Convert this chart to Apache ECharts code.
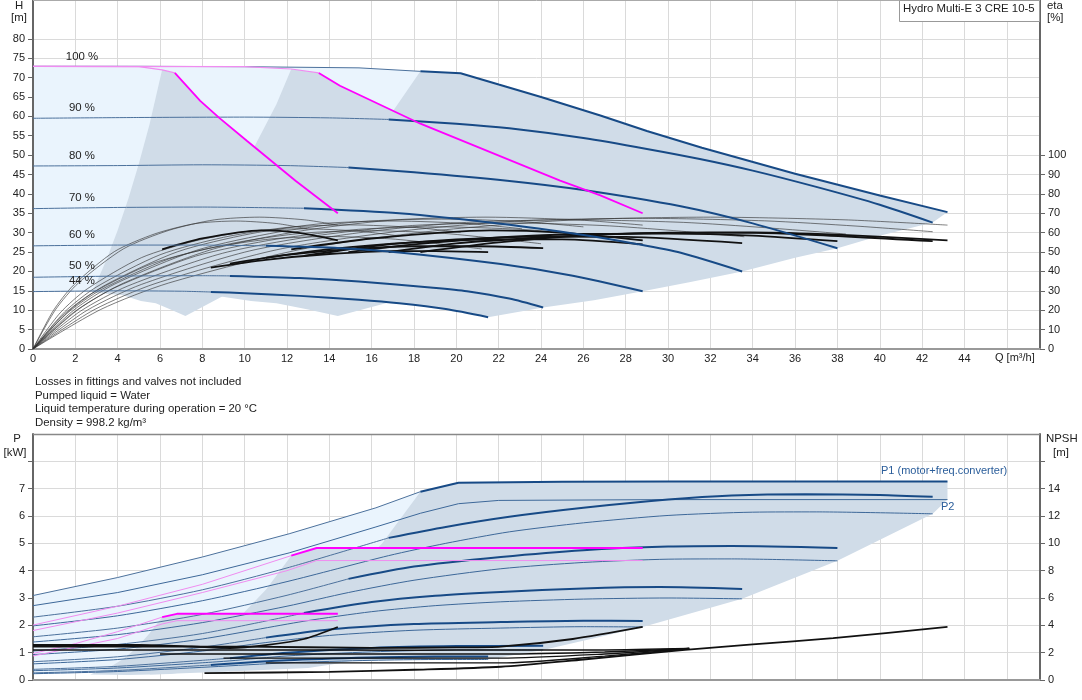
<!DOCTYPE html>
<html><head><meta charset="utf-8">
<script src="https://cdn.jsdelivr.net/npm/echarts@6/dist/echarts.min.js"></script>
<style>html,body{margin:0;padding:0;background:#fff}#c{width:1082px;height:700px}</style>
</head><body><div id="c"></div>
<script>
// ---------------- DATA (Q in m3/h) ----------------
const Q_TICKS = [0,2,4,6,8,10,12,14,16,18,20,22,24,26,28,30,32,34,36,38,40,42,44];
const H_TICKS = [0,5,10,15,20,25,30,35,40,45,50,55,60,65,70,75,80];
const ETA_TICKS = [0,10,20,30,40,50,60,70,80,90,100];
const P_TICKS = [0,1,2,3,4,5,6,7];
const NPSH_TICKS = [0,2,4,6,8,10,12,14];
const SPEED_LABELS = ['100 %','90 %','80 %','70 %','60 %','50 %','44 %'];

// QH curves, 3 pumps, per speed  [Q, H]
const H100 = [[0,72.9],[5,72.9],[10,72.8],[15.4,72.5],[18.3,71.6],[20.2,71.1],[22,68.2],[24,65],[26.8,60.2],[29,56.2],[31.6,51.9],[36,45.2],[40,39.6],[43.2,35.3]];
const H90  = [[0,59.5],[5,59.7],[10,59.8],[14,59.6],[16.8,59.2],[20,58.1],[22.5,56.9],[26,54.4],[29,51.6],[31.5,49],[34,46],[37,41.8],[40,37.2],[42.5,32.6]];
const H80  = [[0,47.2],[4,47.3],[8,47.5],[12,47.3],[14.9,46.8],[18,45.6],[22.4,43.4],[26,41],[30.6,36.8],[34,32.4],[38,26]];
const H70  = [[0,36.2],[4,36.5],[8,36.6],[12.8,36.3],[17.3,35],[22.1,32.3],[26,29.4],[28.5,27.1],[30.6,24.8],[33.5,20]];
const H60  = [[0,26.6],[4,26.8],[8,26.8],[11,26.6],[14.5,26],[17.3,24.9],[22.1,21.9],[25.5,18.9],[28.8,14.9]];
const H50  = [[0,18.5],[4,18.8],[8,18.9],[9.3,18.85],[12.6,18.3],[15.4,17.4],[18.9,15.8],[20.5,14.9],[22.5,13],[24.1,10.7]];
const H44  = [[0,14.8],[4,15],[7,14.9],[8.4,14.7],[10,14.4],[12.6,13.7],[15.4,12.7],[17.3,11.8],[19.5,10.3],[21.5,8.2]];
const H_SPLIT = [18.3,16.8,14.9,12.8,11,9.3,8.4];

// max curves of 1 and 2 pumps (magenta)
const M1 = [[0,72.9],[5,72.8],[6.1,72.0],[6.7,71.2],[7.9,64],[8.8,59.6],[10.1,53.7],[12.4,43.4],[14.4,35]];
const M2 = [[0,72.9],[10,72.8],[12.2,72.2],[13.5,71.2],[14.5,67.9],[18.3,58.1],[24.9,43.4],[26.8,39.6],[28.8,35]];
const M_SPLIT = [6.7,13.5];

// region outlines, QH diagram
const REG1_L = [[2.8,14.6],[3.5,23.4],[4,30.6],[4.5,38.7],[5,47.8],[5.5,57.8],[6.1,72.0]];
const REG1_R = [[14.4,35],[13,28.6],[12,24.3],[11,20.4],[10,16.9],[9,13.7],[8,10.8],[7.2,8.5]];
const REG1_B = [[6.5,10.2],[5.8,11.8],[5.1,12.4],[4.2,13.9]];
const REG2_L = [[5.6,14.8],[6.5,20.2],[7.5,26.8],[8.5,34.5],[9.5,43],[10.5,52.6],[11.5,63.1],[12.2,72.2]];
const REG2_R = [[28.8,35],[26,28.5],[24,24.3],[22,20.4],[20,16.9],[18,13.7],[16,10.8],[14.4,8.5]];
const REG2_B = [[13,10.2],[11.5,11.8],[10.3,12.4],[8.4,13.9]];
const REG3_L = [[8.4,14.7],[9.5,19.1],[11,25.7],[12.5,33.1],[14,41.6],[15.5,50.9],[17,61.3],[18.3,71.6]];
const REG3_R = [[43.2,35.3],[42.5,32.6],[40,29.2],[38,26],[36,23.5],[33.5,20],[31,17.2],[28.8,14.9],[26.5,12.6],[24.1,10.7],[21.5,8.2]];

// efficiency curves [Q, eta %], thin full curves
const ETA_THIN = [
  [[0,0],[0.96,19.8],[1.92,33],[3.84,50.2],[5.76,59.4],[7.68,64.7],[9.6,66],[11.52,64.7],[12.96,62]],
  [[0,0],[1.07,20.4],[2.14,34],[4.28,51.7],[6.42,61.2],[8.56,66.6],[10.7,68],[12.84,66.6],[14.4,63.9]],
  [[0,0],[1.28,18.6],[2.56,31],[5.12,47.1],[7.68,55.8],[10.24,60.8],[12.8,62],[15.36,60.8],[17.3,58.3]],
  [[0,0],[1.5,19.2],[3,32],[6,48.6],[9,57.6],[12,62.7],[15,64],[18,62.7],[20.2,60.2]],
  [[0,0],[1.71,19.8],[3.42,33],[6.84,50.2],[10.26,59.4],[13.68,64.7],[17.1,66],[20.5,64.7],[23.1,62]],
  [[0,0],[1.93,20.1],[3.86,33.5],[7.72,50.9],[11.58,60.3],[15.44,65.7],[19.3,67],[23.16,65.7],[26,63]],
  [[0,0],[2.14,20.4],[4.28,34],[8.56,51.7],[12.84,61.2],[17.12,66.6],[21.4,68],[25.7,66.6],[28.8,63.9]],
  [[0,0],[1.41,17.4],[2.82,29],[5.64,44.1],[8.46,52.2],[11.28,56.8],[14.1,58],[16.9,56.8],[19,54.5],[21.2,51.6]],
  [[0,0],[1.6,18.3],[3.2,30.5],[6.4,46.4],[9.6,54.9],[12.8,59.8],[16,61],[19.2,59.8],[21.6,57.3],[24,54.3]],
  [[0,0],[1.92,18.9],[3.84,31.5],[7.68,47.9],[11.52,56.7],[15.36,61.7],[19.2,63],[23.04,61.7],[25.9,59.2],[28.8,56.1]],
  [[0,0],[2.24,19.5],[4.48,32.5],[8.96,49.4],[13.44,58.5],[17.92,63.7],[22.4,65],[26.88,63.7],[30.24,61.1],[33.6,57.9]],
  [[0,0],[2.56,20],[5.12,33.3],[10.24,50.6],[15.36,59.9],[20.48,65.3],[25.6,66.6],[30.72,65.3],[34.56,62.6],[38.4,59.3]],
  [[0,0],[2.88,20.2],[5.76,33.7],[11.52,51.2],[17.28,60.7],[23.04,66.1],[28.8,67.4],[34.56,66.1],[38.88,63.4],[42.5,60.5]],
  [[0,0],[3.2,20.4],[6.4,34],[12.8,51.7],[19.2,61.2],[25.6,66.6],[32,68],[38.4,66.6],[43.2,63.9]]
];
// efficiency in operating ranges (thick)
const ETA_THICK = [
  [[18.3,50],[22,55],[26,58.5],[30,60],[34,60.2],[38,59],[43.2,56]],
  [[16.8,50],[20,54.5],[24,57.5],[28,59.5],[32,60],[36,59.3],[42.5,55.6]],
  [[14.9,50],[18,54],[22,57.5],[26,59.3],[30,59.5],[34,58.5],[38,55.6]],
  [[12.8,48],[16,53],[20,56.5],[24,58],[28,57.8],[33.5,54.6]],
  [[11,47],[14,51.5],[18,55],[22,56.5],[25,56.5],[28.8,54]],
  [[9.3,44],[12,48.5],[15,51.5],[18,53],[21,53],[24.1,52]],
  [[8.4,42],[11,46],[14,49],[17,50.5],[19,50.5],[21.5,50]],
  [[6.1,51.4],[8,57],[10.8,61.2],[12.5,60],[14.4,56]],
  [[12.2,51.4],[16,57],[21.6,61.2],[25,60],[28.8,56]]
];

// power curves, 3 pumps [Q, kW]
const P1_100 = [[0,3.09],[4,3.75],[8,4.5],[12.1,5.35],[16.2,6.3],[18.3,6.89],[20.1,7.22],[25,7.25],[30,7.26],[43.2,7.26]];
const P2_100 = [[0,2.72],[4,3.2],[8,3.85],[12.1,4.65],[16.2,5.6],[18.3,6.1],[20.1,6.45],[22,6.57],[30,6.6],[43.2,6.6]];
const P1_90 = [[0,2.3],[4,2.7],[8,3.3],[12,4.1],[16.8,5.2],[19.5,5.6],[22.5,5.97],[26,6.3],[30,6.6],[33,6.75],[36.5,6.8],[40,6.77],[42.5,6.7]];
const P2_90 = [[0,1.98],[4,2.35],[8,2.9],[12,3.6],[16.8,4.55],[19.5,5.0],[22.5,5.42],[26,5.75],[30,6.02],[34,6.14],[37,6.15],[42.5,6.08]];
const P1_80 = [[0,1.58],[4,1.9],[8,2.4],[12,3.1],[14.9,3.7],[18,4.15],[22.1,4.5],[26,4.75],[30,4.88],[33,4.9],[38,4.83]];
const P2_80 = [[0,1.39],[4,1.66],[8,2.1],[12,2.7],[14.9,3.2],[18,3.65],[22.1,4.07],[26,4.3],[30,4.42],[33,4.43],[38,4.36]];
const P1_70 = [[0,1.06],[4,1.3],[8,1.7],[12.8,2.45],[16,2.85],[19,3.08],[22.1,3.22],[26,3.35],[29.6,3.4],[33.5,3.33]];
const P2_70 = [[0,0.93],[4,1.13],[8,1.5],[12.8,2.15],[16,2.5],[19,2.72],[22.1,2.86],[26,2.96],[30,3.0],[33.5,2.97]];
const P1_60 = [[0,0.67],[4,0.85],[8,1.2],[11,1.55],[14,1.85],[18,2.05],[22.1,2.12],[26,2.17],[28.8,2.16]];
const P2_60 = [[0,0.59],[4,0.75],[8,1.06],[11,1.37],[14,1.63],[18,1.82],[22.1,1.9],[26,1.95],[28.8,1.94]];
const P1_50 = [[0,0.39],[4,0.5],[8,0.72],[9.3,0.8],[12,1.0],[16,1.17],[20,1.24],[24.1,1.25]];
const P2_50 = [[0,0.34],[4,0.44],[8,0.63],[9.3,0.7],[12,0.88],[16,1.03],[20,1.1],[24.1,1.1]];
const P1_44 = [[0,0.26],[4,0.35],[8.4,0.55],[12,0.72],[16,0.82],[19,0.86],[21.5,0.86]];
const P2_44 = [[0,0.23],[4,0.31],[8.4,0.48],[12,0.63],[16,0.72],[19,0.75],[21.5,0.75]];
// 1 and 2 pump max power (magenta)
const MP1_2 = [[0,2.01],[4,2.7],[8,3.5],[12.2,4.55],[13.4,4.83],[28.8,4.83]];
const MP2_2 = [[0,1.81],[4,2.45],[8,3.2],[12,4.0],[13.4,4.37],[28.8,4.37]];
const MP1_1 = [[0,0.97],[2,1.33],[4,1.77],[6.1,2.3],[6.8,2.42],[14.4,2.42]];
const MP2_1 = [[0,0.88],[2,1.2],[4,1.52],[6.1,2.05],[6.8,2.17],[14.4,2.17]];
// NPSH [Q, m]
const NPSH_1 = [[0,2.56],[5,2.56],[7.5,2.45],[9.3,2.34],[11,2.55],[12.8,3.0],[14.4,3.88]];
const NPSH_2 = [[0,2.44],[10,2.44],[16,2.35],[20,2.38],[22.1,2.44],[25.5,3.0],[28.8,3.88]];
const NPSH_3 = [[8.1,0.5],[14,0.6],[18,0.75],[22.1,0.97],[26,1.5],[30.8,2.2],[34,2.6],[37.8,3.07],[43.2,3.88]];
const NPSH_OTHER = [
  [[0,2.2],[10,2.2],[18,2.18],[22.1,2.2],[27,2.2],[31,2.3]],
  [[6,1.9],[14,1.9],[22.1,1.9],[27,2.05],[31,2.3]],
  [[9,1.6],[16,1.6],[22.1,1.6],[27,1.9],[31,2.3]],
  [[11,1.25],[17,1.25],[22.1,1.25],[27,1.75],[31,2.3]]
];
// region outlines, power diagram
const PREG1_L = [[2.7,0.2],[3.7,0.5],[4.3,0.79],[4.9,1.18],[5.5,1.7],[6.1,2.3]];
const PREG1_R = [[14.4,2.42],[13,1.76],[11.5,1.24],[10.1,0.83],[8.6,0.52],[7.2,0.3],[6.5,0.22],[4.5,0.18]];
const PREG2_L = [[5.5,0.2],[7.3,0.99],[8.5,1.56],[9.8,2.33],[11,3.3],[12.2,4.55]];
const PREG2_R = [[28.8,4.83],[25.9,3.52],[23,2.47],[20.2,1.66],[17.3,1.04],[14.4,0.6],[13,0.44],[9,0.3]];
const PREG3_L = [[8.4,0.48],[11,1.5],[12.8,2.35],[14.6,3.5],[16.5,5.0],[18.3,6.89]];
const PREG3_R = [[43.2,7.26],[43.2,6.6],[42.5,6.08],[38,4.36],[33.5,2.97],[28.8,1.94],[24.1,1.1],[21.5,0.75]];

// ---------------- BUILD ----------------
const BLUE = '#174a86', BLUE_THIN = '#4c719c', LIGHT = '#eaf4fd', GREY = '#d0dce8', MAG = '#ff00ff', MAG_L = '#f08cf0';
const FONT = '"Liberation Sans", Arial, sans-serif';
const series = [];
function upTo(arr, q){ return arr.filter(p => p[0] <= q + 1e-9); }
function from(arr, q){ return arr.filter(p => p[0] >= q - 1e-9); }
function rev(arr){ return arr.slice().reverse(); }
function poly(pts, color, xi, yi, z){
  series.push({type:'custom', xAxisIndex:xi, yAxisIndex:yi, z:z, silent:true, animation:false,
    data:[[pts[0][0], pts[0][1]]],
    renderItem:function(params, api){
      return {type:'polygon', shape:{points: pts.map(p => api.coord(p))}, style:{fill:color, stroke:null}};
    }});
}
function line(pts, color, width, xi, yi, z, smooth, opacity){
  series.push({type:'line', xAxisIndex:xi, yAxisIndex:yi, data:pts, symbol:'none', silent:true, animation:false,
    smooth: smooth ? 0.25 : false, z:z,
    lineStyle:{color:color, width:width, opacity: opacity == null ? 1 : opacity}});
}
// QH regions
poly(upTo(H100,20.2).concat([[21.5,8.2]], rev(H44)), LIGHT, 0, 0, 1);
poly(REG1_L.concat(from(M1,6.1), REG1_R, REG1_B), GREY, 0, 0, 1);
poly(REG2_L.concat(from(M2,12.2), REG2_R, REG2_B), GREY, 0, 0, 1);
poly(REG3_L.concat(from(H100,18.3), REG3_R, rev(from(H44,8.4))), GREY, 0, 0, 1);
// power regions
poly(upTo(P1_100,20.1).concat([[21.5,0.86]], rev(P2_44)), LIGHT, 1, 2, 1);
poly(PREG1_L.concat(from(MP1_1,6.1), PREG1_R), GREY, 1, 2, 1);
poly(PREG2_L.concat(from(MP1_2,12.2), PREG2_R), GREY, 1, 2, 1);
poly(PREG3_L.concat(from(P1_100,18.3), PREG3_R, rev(from(P2_44,8.4))), GREY, 1, 2, 1);

// efficiency curves
ETA_THIN.forEach(c => line(c, '#333', 0.8, 0, 1, 3, true, 0.8));
ETA_THICK.forEach(c => line(c, '#111', 1.8, 0, 1, 4, true));
// QH curves
const HC = [H100,H90,H80,H70,H60,H50,H44];
HC.forEach((c,i) => {
  line(upTo(c, H_SPLIT[i]), BLUE_THIN, 1, 0, 0, 5, i !== 0);
  line(from(c, H_SPLIT[i]), BLUE, 2, 0, 0, 6, i !== 0);
});
line(upTo(M1, M_SPLIT[0]), MAG_L, 1.2, 0, 0, 7, false);
line(from(M1, M_SPLIT[0]), MAG, 1.8, 0, 0, 7, false);
line(upTo(M2, M_SPLIT[1]), MAG_L, 1.2, 0, 0, 7, false);
line(from(M2, M_SPLIT[1]), MAG, 1.8, 0, 0, 7, false);

// power curves
const PC = [[P1_100,P2_100],[P1_90,P2_90],[P1_80,P2_80],[P1_70,P2_70],[P1_60,P2_60],[P1_50,P2_50],[P1_44,P2_44]];
PC.forEach((pair,i) => {
  const s = H_SPLIT[i];
  line(upTo(pair[0], s), BLUE_THIN, 1, 1, 2, 5, i !== 0);
  line(from(pair[0], s), BLUE, 2, 1, 2, 6, i !== 0);
  line(pair[1], '#3d6899', 1, 1, 2, 5, i !== 0);
});
line(upTo(MP1_2,12.2), MAG_L, 1, 1, 2, 7, false);
line(from(MP1_2,12.2), MAG, 2, 1, 2, 7, false);
line(MP2_2, MAG_L, 1, 1, 2, 7, false);
line(upTo(MP1_1,6.1), MAG_L, 1, 1, 2, 7, false);
line(from(MP1_1,6.1), MAG, 2, 1, 2, 7, false);
line(MP2_1, MAG_L, 1, 1, 2, 7, false);
// NPSH
[NPSH_1, NPSH_2, NPSH_3].forEach(c => line(c, '#111', 1.8, 1, 3, 8, true));
NPSH_OTHER.forEach(c => line(c, '#111', 1.4, 1, 3, 8, true));

// ---------------- AXES ----------------
const tickTxt = {color:'#222', fontSize:11, fontFamily:FONT};
const gridLine = {show:true, lineStyle:{color:'#dadada', width:1}};
function xAx(gi, labels){
  return {type:'value', gridIndex:gi, min:0, max:47.57, interval:2, z:1,
    axisLine:{show:true, onZero:false, lineStyle:{color:'#999', width:2}},
    axisTick:{show:false},
    axisLabel: labels ? Object.assign({customValues:Q_TICKS, margin:4}, tickTxt) : {show:false},
    splitLine:gridLine};
}
function yAx(gi, max, interval, ticks, labels, right, split){
  return {type:'value', gridIndex:gi, min:0, max:max, interval:interval, position: right ? 'right':'left', z:1,
    axisLine:{show:true, onZero:false, lineStyle:{color:'#666', width:2}},
    axisTick:{show:true, length:5, customValues:ticks, lineStyle:{color:'#666', width:1}},
    axisLabel:Object.assign({customValues:labels, margin:8}, tickTxt),
    splitLine: split ? gridLine : {show:false}};
}

const txt = (x,y,text,align,extra) => ({type:'text', x:x, y:y, silent:true, z:100,
  style:Object.assign({text:text, fill:'#222', font:'11px '+FONT, align:align||'left', verticalAlign:'middle'}, extra||{})});
const NOTE = {font:'11.4px '+FONT};

const graphics = [
  {type:'line', shape:{x1:33,y1:0.5,x2:1040,y2:0.5}, style:{stroke:'#aaa', lineWidth:1}, z:50, silent:true},
  {type:'line', shape:{x1:33,y1:434.5,x2:1040,y2:434.5}, style:{stroke:'#888', lineWidth:1.5}, z:50, silent:true},
  {type:'rect', shape:{x:899.5,y:0.5,width:140,height:21}, style:{fill:'#fff', stroke:'#999', lineWidth:1}, z:60, silent:true},
  txt(903,9,'Hydro Multi-E 3 CRE 10-5','left',NOTE),
  txt(19,6,'H','center',NOTE), txt(19,18,'[m]','center',NOTE),
  txt(1047,6,'eta','left',NOTE), txt(1047,18,'[%]','left',NOTE),
  txt(995,358,'Q [m³/h]','left'),
  txt(35,382,'Losses in fittings and valves not included','left',NOTE),
  txt(35,396,'Pumped liquid = Water','left',NOTE),
  txt(35,409,'Liquid temperature during operation = 20 °C','left',NOTE),
  txt(35,423,'Density = 998.2 kg/m³','left',NOTE),
  txt(17,439,'P','center',NOTE), txt(15,453,'[kW]','center',NOTE),
  txt(1046,439,'NPSH','left',NOTE), txt(1053,453,'[m]','left',NOTE),
  txt(881,471,'P1 (motor+freq.converter)','left',{fill:'#2a5d9a'}),
  txt(941,507,'P2','left',{fill:'#2a5d9a'})
];
const labY = [57,108,156,198,235,266,281];
SPEED_LABELS.forEach((s,i) => graphics.push(txt(82,labY[i],s,'center',NOTE)));

const option = {
  animation:false,
  backgroundColor:'#fff',
  grid:[{left:33, top:0, width:1007, height:349}, {left:33, top:434, width:1007, height:246}],
  xAxis:[xAx(0,true), xAx(1,false)],
  yAxis:[
    yAx(0, 90, 5, H_TICKS, H_TICKS, false, true),
    yAx(0, 180, 10, ETA_TICKS, ETA_TICKS, true, false),
    yAx(1, 9, 1, P_TICKS.concat([8]), P_TICKS, false, true),
    yAx(1, 18, 2, NPSH_TICKS.concat([16]), NPSH_TICKS, true, false)
  ],
  series:series,
  graphic:graphics
};
const chart = echarts.init(document.getElementById('c'), null, {renderer:'canvas'});
chart.setOption(option);
</script></body></html>
